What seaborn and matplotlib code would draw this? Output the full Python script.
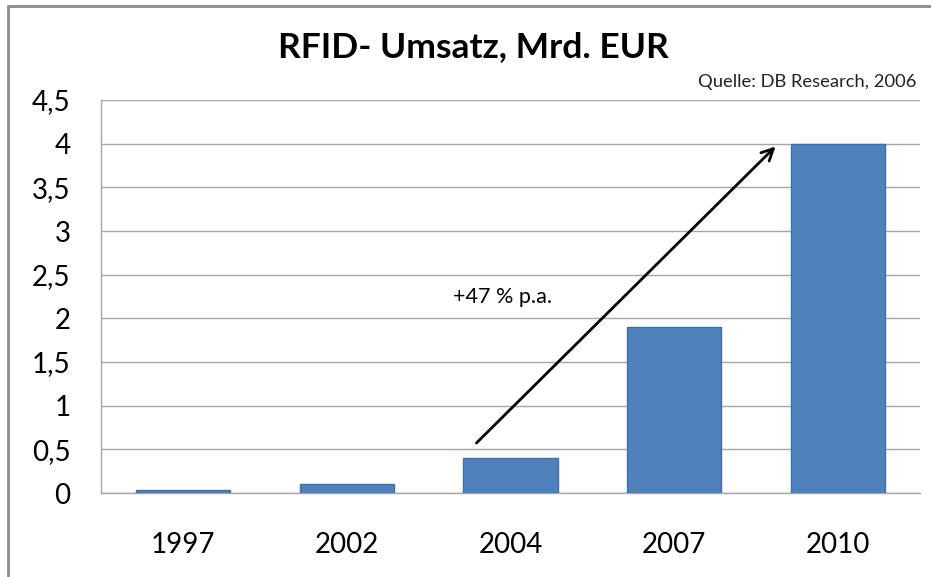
import matplotlib
matplotlib.use("Agg")
import matplotlib.pyplot as plt
import seaborn as sns
import pandas as pd
from matplotlib.lines import Line2D
from matplotlib.ticker import FuncFormatter, MultipleLocator

years = ["1997", "2002", "2004", "2007", "2010"]
umsatz = [0.03, 0.1, 0.4, 1.9, 4.0]
title = "RFID- Umsatz, Mrd. EUR"
source = "Quelle: DB Research, 2006"
growth_label = "+47 % p.a."

sns.set_theme(style="white")
plt.rcParams["font.family"] = ["Lato", "DejaVu Sans"]

df = pd.DataFrame({"Jahr": years, "Umsatz": umsatz})

fig = plt.figure(figsize=(9.31, 5.77), dpi=100)
ax = fig.add_axes([101 / 931, 1 - 493 / 577, (920 - 101) / 931, (493 - 100) / 577])

sns.barplot(data=df, x="Jahr", y="Umsatz", color="#4F81BD", saturation=1,
            width=0.575, edgecolor="#3F6FA8", linewidth=1, ax=ax, zorder=3)

ax.set_xlim(-0.5, 4.5)
ax.set_ylim(0, 4.5)
ax.yaxis.set_major_locator(MultipleLocator(0.5))
ax.yaxis.set_major_formatter(FuncFormatter(lambda v, p: f"{v:g}".replace(".", ",")))
ax.grid(axis="y", color="#A6A6A6", linewidth=1, zorder=0)
ax.set_axisbelow(True)
ax.set_xlabel("")
ax.set_ylabel("")
for s in ["top", "right"]:
    ax.spines[s].set_visible(False)
for s in ["left", "bottom"]:
    ax.spines[s].set_color("#A6A6A6")
    ax.spines[s].set_linewidth(1)
ax.tick_params(axis="y", length=0, pad=22, labelsize=20, labelcolor="#000000")
ax.tick_params(axis="x", length=0, pad=28, labelsize=20, labelcolor="#000000")

# growth arrow
ax.annotate("", xy=(3.63, 3.99), xytext=(1.78, 0.55),
            arrowprops=dict(arrowstyle="->,head_length=0.7,head_width=0.35",
                            color="black", lw=2), zorder=5)
ax.text(1.95, 2.245, growth_label, ha="center", va="center", fontsize=15.5, color="black")

fig.text(473 / 931, 1 - 47 / 577, title, ha="center", va="center",
         fontsize=25.5, fontweight="bold", color="black")
fig.text(916 / 931, 1 - 82 / 577, source, ha="right", va="center",
         fontsize=13.2, color="#222222")

# outer frame (top and left edges visible)
fig.add_artist(Line2D([7.5 / 931, 7.5 / 931], [0, 1 - 5.5 / 577], transform=fig.transFigure,
                      color="#8C8C8C", lw=2))
fig.add_artist(Line2D([7.5 / 931, 1], [1 - 5.5 / 577, 1 - 5.5 / 577], transform=fig.transFigure,
                      color="#8C8C8C", lw=2))

fig.savefig("out.png", dpi=100, facecolor="white")
